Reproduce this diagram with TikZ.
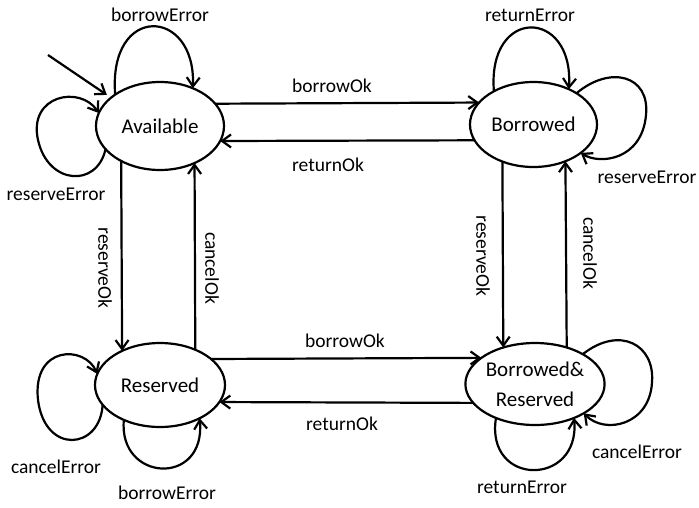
\documentclass[tikz,border=0pt]{standalone}
\usepackage{fontspec}
\setmainfont{Carlito}
\usetikzlibrary{arrows.meta,shapes.geometric}
\begin{document}
\begin{tikzpicture}[x=1pt,y=-1pt,
  state/.style={draw, ellipse, line width=2.2pt, inner sep=0pt, outer sep=0pt,
    font=\fontsize{21}{30}\selectfont, align=center},
  lab/.style={font=\fontsize{19.5}{23}\selectfont, inner sep=0pt},
  tr/.style={line width=2.2pt, -{Straight Barb[length=9pt,width=13pt]}},
]
\useasboundingbox (0,0) rectangle (699,507);

\node[state, minimum width=128, minimum height=88] (A) at (160,126) {Available};
\node[state, minimum width=127, minimum height=85] (B) at (533.5,124.5) {Borrowed};
\node[state, minimum width=130, minimum height=84] (R) at (160,385) {Reserved};
\node[state, minimum width=130, minimum height=82] (BR) at (535,384) {Borrowed\&\\Reserved};

% initial arrow
\coordinate (init) at (48,55);
\draw[tr, shorten >=5pt] (init) -- (A.150);

% horizontal transitions
\draw[tr] (A.22.9) -- (B.158.6) node[lab] (l1) at (332,86) {borrowOk};
\draw[tr] (B.195.75) -- (A.-14) node[lab] (l2) at (328,165) {returnOk};
\draw[tr] (R.27) -- (BR.154.1) node[lab] (l3) at (345,341) {borrowOk};
\draw[tr] (BR.197.1) -- (R.344) node[lab] (l4) at (342,424) {returnOk};

% vertical transitions
\draw[tr] (A.222.97) -- (R.138.1) node[lab, rotate=-90] (l5) at (105,268) {reserveOk};
\draw[tr] (R.45.3) -- (A.313.6) node[lab, rotate=-90] (l6) at (212,268) {cancelOk};
\draw[tr] (B.230.7) -- (BR.131.9) node[lab, rotate=-90] (l7) at (483,256) {reserveOk};
\draw[tr] (BR.49.3) -- (B.311.7) node[lab, rotate=-90] (l8) at (590,253) {cancelOk};

% self loops: Available
\draw[tr] (A.145) .. controls (108,3) and (196,7) .. (A.49)
  node[lab] (l9) at (160,15) {borrowError};
\draw[tr] (A.203) .. controls (97,188) and (48,185) .. (38,140)
  .. controls (28,95) and (80,85) .. (A.168)
  node[lab] (l10) at (56,194) {reserveError};

% self loops: Borrowed
\draw[tr] (B.140) .. controls (487,6) and (574,8) .. (B.45)
  node[lab] (l11) at (530,15) {returnError};
\draw[tr] (B.36.6) .. controls (610,65) and (650,75) .. (646,115)
  .. controls (642,160) and (600,165) .. (B.-31)
  node[lab] (l12) at (647,177) {reserveError};

% self loops: Reserved
\draw[tr] (R.199.3) .. controls (100,450) and (45,455) .. (38,400)
  .. controls (32,345) and (85,345) .. (R.170)
  node[lab] (l13) at (56,467) {cancelError};
\draw[tr] (R.224.2) .. controls (118,482) and (206,487) .. (R.320.1)
  node[lab] (l14) at (167,493) {borrowError};

% self loops: Borrowed&Reserved
\draw[tr] (BR.32.6) .. controls (620,325) and (655,345) .. (652,382)
  .. controls (650,425) and (605,435) .. (BR.-31.8)
  node[lab] (l15) at (637,452) {cancelError};
\draw[tr] (BR.221.3) .. controls (485,487) and (580,487) .. (BR.319.6)
  node[lab] (l16) at (522,487) {returnError};
\end{tikzpicture}
\end{document}
